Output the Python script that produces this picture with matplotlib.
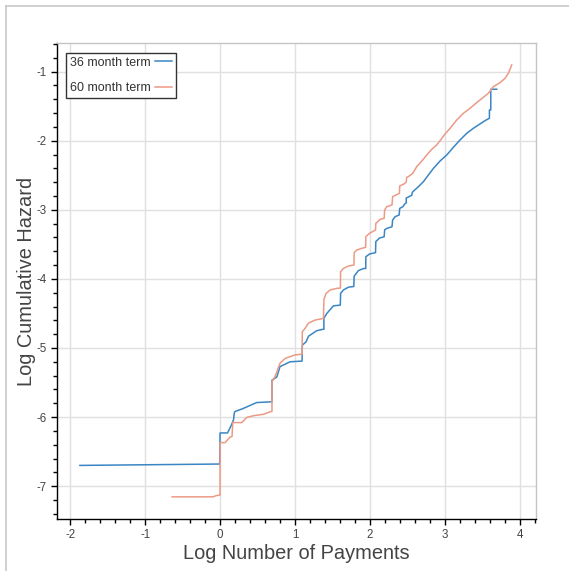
import matplotlib
matplotlib.use("Agg")
import matplotlib.pyplot as plt
from matplotlib.lines import Line2D
from matplotlib.ticker import MultipleLocator

plt.rcParams['font.family'] = ['Liberation Sans', 'DejaVu Sans']
plt.rcParams['axes.unicode_minus'] = False

# log(payments) vs log(cumulative hazard), 36 month loans
x36 = [-1.87, -0.005, 0.0, 0.10, 0.15, 0.18, 0.19, 0.20, 0.30, 0.446, 0.49, 0.678, 0.693,
       0.693, 0.758, 0.80, 0.935, 1.095, 1.098, 1.149, 1.18, 1.291, 1.371, 1.386,
       1.386, 1.425, 1.514, 1.605, 1.609, 1.647, 1.714, 1.785, 1.79, 1.847, 1.914,
       1.944, 1.946, 1.994, 2.075, 2.079, 2.127, 2.19, 2.197, 2.225, 2.295, 2.303,
       2.336, 2.39, 2.398, 2.439, 2.47, 2.485, 2.485, 2.559, 2.565, 2.581, 2.648,
       2.714, 2.781, 2.848, 2.937, 3.026, 3.114, 3.203, 3.292, 3.381, 3.47, 3.537,
       3.595, 3.595, 3.613, 3.613, 3.693]
y36 = [-6.70, -6.68, -6.23, -6.23, -6.12, -6.04, -5.94, -5.92, -5.88, -5.81, -5.79, -5.78, -5.78,
       -5.465, -5.42, -5.27, -5.20, -5.19, -4.96, -4.91, -4.83, -4.75, -4.73, -4.73,
       -4.57, -4.50, -4.39, -4.38, -4.21, -4.16, -4.12, -4.11, -3.96, -3.88, -3.85,
       -3.85, -3.68, -3.64, -3.62, -3.46, -3.41, -3.39, -3.29, -3.27, -3.245, -3.15,
       -3.10, -3.075, -2.98, -2.955, -2.91, -2.90, -2.83, -2.79, -2.75, -2.73, -2.665,
       -2.593, -2.496, -2.40, -2.293, -2.206, -2.095, -1.989, -1.893, -1.82, -1.757, -1.709,
       -1.675, -1.555, -1.555, -1.255, -1.255]

# 60 month loans
x60 = [-0.64, -0.09, -0.06, -0.01, 0.0, 0.0, 0.068, 0.10, 0.135, 0.16, 0.17, 0.29, 0.357,
       0.45, 0.58, 0.678, 0.693, 0.693, 0.74, 0.80, 0.87, 1.002, 1.095, 1.098, 1.135,
       1.18, 1.269, 1.38, 1.386, 1.416, 1.469, 1.558, 1.606, 1.609, 1.647, 1.714,
       1.787, 1.79, 1.825, 1.892, 1.943, 1.946, 1.994, 2.075, 2.079, 2.136, 2.19,
       2.197, 2.225, 2.295, 2.303, 2.394, 2.398, 2.456, 2.485, 2.49, 2.514, 2.572,
       2.625, 2.705, 2.759, 2.826, 2.892, 2.937, 3.003, 3.07, 3.159, 3.248, 3.337,
       3.426, 3.515, 3.581, 3.648, 3.737, 3.804, 3.848, 3.893]
y60 = [-7.155, -7.155, -7.14, -7.13, -7.13, -6.37, -6.37, -6.33, -6.29, -6.28, -6.08, -6.08, -6.005,
       -5.98, -5.96, -5.92, -5.92, -5.49, -5.40, -5.22, -5.15, -5.10, -5.09, -4.765, -4.717,
       -4.64, -4.596, -4.572, -4.297, -4.21, -4.161, -4.137, -4.133, -3.896, -3.848, -3.814,
       -3.80, -3.621, -3.582, -3.558, -3.543, -3.389, -3.341, -3.292, -3.196, -3.138, -3.124,
       -3.003, -2.955, -2.93, -2.81, -2.762, -2.655, -2.626, -2.60, -2.53, -2.52, -2.472,
       -2.375, -2.279, -2.206, -2.124, -2.061, -1.999, -1.902, -1.82, -1.70, -1.603, -1.53,
       -1.448, -1.371, -1.313, -1.217, -1.159, -1.096, -1.024, -0.903]

labels = ['36 month term', '60 month term']
colors = ['#3a86c4', '#ec9a86']

W, H = 569, 571
fig = plt.figure(figsize=(W / 100, H / 100), dpi=100)
ax = fig.add_axes([56.7 / W, (H - 519.3) / H, (535.5 - 56.7) / W, (519.3 - 43.3) / H])

ax.plot(x36, y36, color=colors[0], lw=1.1)
ax.plot(x60, y60, color=colors[1], lw=1.1)

ax.set_xlim(-2.18, 4.21)
ax.set_ylim(-7.48, -0.59)
ax.xaxis.set_major_locator(MultipleLocator(1))
ax.yaxis.set_major_locator(MultipleLocator(1))
ax.xaxis.set_minor_locator(MultipleLocator(0.2))
ax.yaxis.set_minor_locator(MultipleLocator(0.2))
ax.grid(True, which='major', color='#e0e0e0', lw=1)
ax.set_axisbelow(True)

for s in ['top', 'right']:
    ax.spines[s].set_color('#c4c4c4')
    ax.spines[s].set_linewidth(1)
for s in ['left', 'bottom']:
    ax.spines[s].set_color('black')
    ax.spines[s].set_linewidth(1)

ax.tick_params(which='major', direction='out', length=4.3, width=1, color='black',
               labelsize=8.3, labelcolor='#444444', pad=3)
ax.tick_params(which='minor', direction='out', length=2.9, width=1, color='black')

ax.set_xlabel('Log Number of Payments', fontsize=14.4, color='#444444', labelpad=1.5)
ax.set_ylabel('Log Cumulative Hazard', fontsize=14.4, color='#444444', labelpad=0)

handles = [Line2D([], [], color=c, lw=1.1) for c in colors]
leg = ax.legend(handles, labels, loc='upper left', bbox_to_anchor=(0.02, 0.98),
                markerfirst=False, fontsize=9.0, frameon=True, fancybox=False,
                handlelength=1.35, handletextpad=0.35, borderpad=0.3, labelspacing=1.1,
                borderaxespad=0.0)
leg.get_frame().set_edgecolor('#333333')
leg.get_frame().set_linewidth(1)
leg.get_frame().set_alpha(1)
for t in leg.get_texts():
    t.set_color('#333333')

# thin border around the output cell
fig.add_artist(Line2D([5.5 / W, 5.5 / W], [0, (H - 5.5) / H], color='#c8c8c8', lw=1.2,
                      transform=fig.transFigure))
fig.add_artist(Line2D([5.5 / W, 1], [(H - 5.5) / H, (H - 5.5) / H], color='#c8c8c8', lw=1.2,
                      transform=fig.transFigure))

fig.savefig('out.png', dpi=100)
